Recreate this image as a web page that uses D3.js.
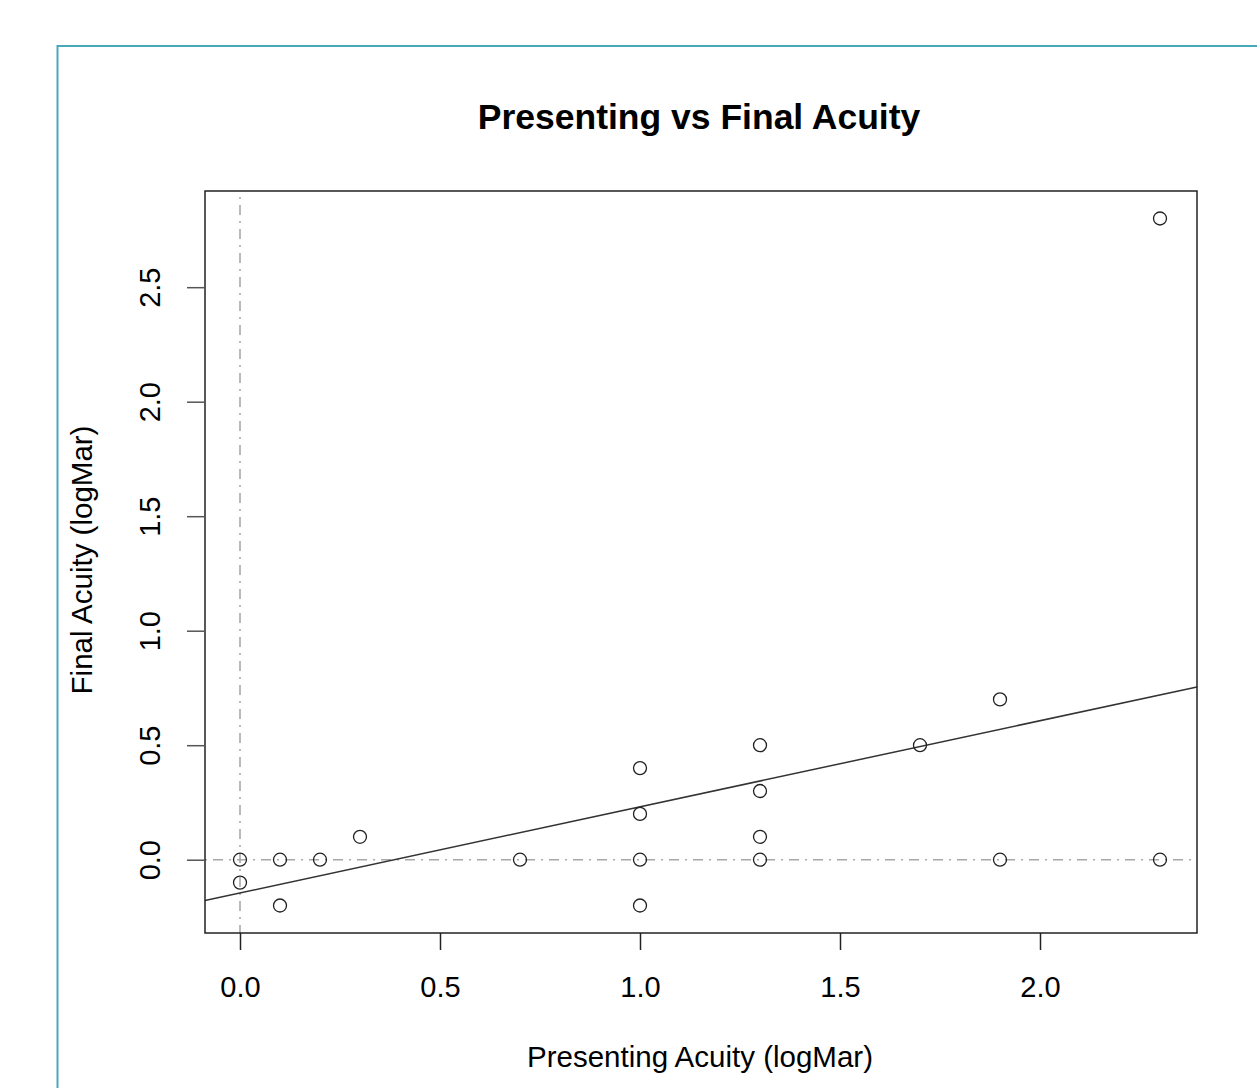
<!DOCTYPE html>
<html>
<head>
<meta charset="utf-8">
<script src="https://cdn.jsdelivr.net/npm/d3@7"></script>
<style>
  body { margin: 0; background: #fff; }
  text { font-family: "Liberation Sans", Arial, sans-serif; fill: #000; }
</style>
</head>
<body>
<div id="chart"></div>
<script>
// data
var presenting = [0, 0, 0.1, 0.1, 0.2, 0.3, 0.7, 1, 1, 1, 1, 1.3, 1.3, 1.3, 1.3, 1.7, 1.9, 1.9, 2.3, 2.3];
var finalAcuity = [0, -0.1, 0, -0.2, 0, 0.1, 0, 0.4, 0.2, 0, -0.2, 0.5, 0.3, 0.1, 0, 0.5, 0.7, 0, 2.8, 0];
var xTicks = [0, 0.5, 1, 1.5, 2];
var yTicks = [0, 0.5, 1, 1.5, 2, 2.5];
// fitted line (intercept, slope)
var fitLine = [-0.145, 0.376];

var width = 1257, height = 1088;
var box = { left: 205, right: 1197, top: 191, bottom: 933 };

var svg = d3.select("#chart").append("svg")
  .attr("width", width)
  .attr("height", height);

// teal frame around the figure
svg.append("rect")
  .attr("x", 57.5).attr("y", 46)
  .attr("width", 1300).attr("height", 1100)
  .attr("fill", "none")
  .attr("stroke", "#4aa9b9")
  .attr("stroke-width", 2);

var x = d3.scaleLinear().domain([-0.0875, 2.3925]).range([box.left, box.right]);
var y = d3.scaleLinear().domain([-0.32, 2.92]).range([box.bottom, box.top]);

var plot = svg.append("g");

// reference lines at zero
plot.append("line")
  .attr("x1", x(0)).attr("x2", x(0))
  .attr("y1", box.top + 6).attr("y2", box.bottom)
  .attr("stroke", "#a8a8a8").attr("stroke-width", 1.6)
  .attr("stroke-dasharray", "2,6,10,6");
plot.append("line")
  .attr("x1", box.left).attr("x2", box.right)
  .attr("y1", y(0)).attr("y2", y(0))
  .attr("stroke", "#a8a8a8").attr("stroke-width", 1.6)
  .attr("stroke-dasharray", "2,6,10,6");

// regression line
var x0 = x.domain()[0], x1 = x.domain()[1];
plot.append("line")
  .attr("x1", x(x0)).attr("y1", y(fitLine[0] + fitLine[1] * x0))
  .attr("x2", x(x1)).attr("y2", y(fitLine[0] + fitLine[1] * x1))
  .attr("stroke", "#333").attr("stroke-width", 1.5);

// points
plot.selectAll("circle")
  .data(presenting)
  .enter()
  .append("circle")
  .attr("cx", function (d) { return x(d); })
  .attr("cy", function (d, i) { return y(finalAcuity[i]); })
  .attr("r", 6.5)
  .attr("fill", "none")
  .attr("stroke", "#222")
  .attr("stroke-width", 1.3);

// plot box
svg.append("rect")
  .attr("x", box.left).attr("y", box.top)
  .attr("width", box.right - box.left).attr("height", box.bottom - box.top)
  .attr("fill", "none").attr("stroke", "#222").attr("stroke-width", 1.5);

// x axis
var xAxis = svg.append("g")
  .attr("transform", "translate(0," + box.bottom + ")")
  .call(d3.axisBottom(x).tickValues(xTicks).tickSize(17).tickPadding(26).tickFormat(d3.format(".1f")));
xAxis.select(".domain").remove();
xAxis.selectAll(".tick line").attr("stroke", "#222").attr("stroke-width", 1.5);
xAxis.selectAll(".tick text").attr("font-size", 29).attr("font-family", "Liberation Sans, Arial, sans-serif");

// y axis
var yAxis = svg.append("g")
  .attr("transform", "translate(" + box.left + ",0)")
  .call(d3.axisLeft(y).tickValues(yTicks).tickSize(18).tickFormat(d3.format(".1f")));
yAxis.select(".domain").remove();
yAxis.selectAll(".tick line").attr("stroke", "#555").attr("stroke-width", 1.5);
yAxis.selectAll(".tick text")
  .attr("font-size", 29)
  .attr("font-family", "Liberation Sans, Arial, sans-serif")
  .attr("text-anchor", "middle")
  .attr("x", 0).attr("dy", 0)
  .attr("transform", "translate(-55,0) rotate(-90)")
  .attr("dominant-baseline", "central");

// title and axis labels
svg.append("text")
  .attr("x", 699).attr("y", 129)
  .attr("text-anchor", "middle")
  .attr("font-size", 35.5).attr("font-weight", "bold")
  .text("Presenting vs Final Acuity");

svg.append("text")
  .attr("x", 700).attr("y", 1067)
  .attr("text-anchor", "middle")
  .attr("font-size", 29.5)
  .text("Presenting Acuity (logMar)");

svg.append("text")
  .attr("transform", "translate(92,560) rotate(-90)")
  .attr("text-anchor", "middle")
  .attr("font-size", 29.5)
  .text("Final Acuity (logMar)");
</script>
</body>
</html>
